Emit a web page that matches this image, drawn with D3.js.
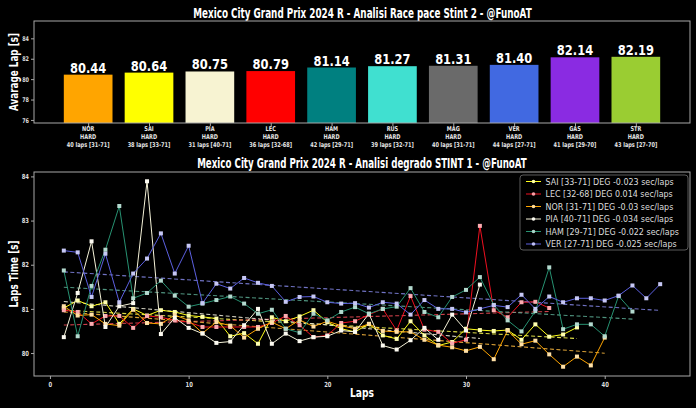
<!DOCTYPE html>
<html><head><meta charset="utf-8">
<script src="https://cdn.jsdelivr.net/npm/d3@7/dist/d3.min.js"></script>
<style>
html,body{margin:0;padding:0;background:#000;}
svg{display:block;}
text{font-family:"DejaVu Sans",sans-serif;}
</style></head><body>
<svg id="c" width="696" height="408"></svg>
<script>
// ---------- DATA: top chart ----------
const drivers = ["NOR","SAI","PIA","LEC","HAM","RUS","MAG","VER","GAS","STR"];
const avgLap = [80.44,80.64,80.75,80.79,81.14,81.27,81.31,81.40,82.14,82.19];
const compounds = ["HARD","HARD","HARD","HARD","HARD","HARD","HARD","HARD","HARD","HARD"];
const stintInfo = ["40 laps [31-71]","38 laps [33-71]","31 laps [40-71]","36 laps [32-68]","42 laps [29-71]",
                   "39 laps [32-71]","40 laps [31-71]","44 laps [27-71]","41 laps [29-70]","43 laps [27-70]"];
const barColors = ["#ffa500","#ffff00","#f7f3d2","#ff0000","#008080","#40e0d0","#6a6a6a","#4169e1","#8a2be2","#9acd32"];
const topTicks = [76,78,80,82,84];

// ---------- DATA: bottom chart ----------
const seriesNames = ["SAI","LEC","NOR","PIA","HAM","VER"];
const legendLabels = ["SAI [33-71] DEG -0.023 sec/laps","LEC [32-68] DEG 0.014 sec/laps","NOR [31-71] DEG -0.03 sec/laps",
                      "PIA [40-71] DEG -0.034 sec/laps","HAM [29-71] DEG -0.022 sec/laps","VER [27-71] DEG -0.025 sec/laps"];
const lineColors = ["#ffff1a","#f01020","#ffa500","#f5f2d8","#279272","#5c60e0"];
const sai = [81.02,81.19,81.06,81.15,80.66,81.0,80.85,80.97,80.93,80.85,80.82,80.78,80.38,80.45,80.21,80.81,80.72,80.83,80.97,80.7,
             80.55,80.48,80.66,80.4,80.32,80.72,80.4,80.17,80.25,80.55,80.52,80.5,80.52,80.3,80.65,80.37,80.42,80.58];
const lec = [80.97,80.93,80.66,80.84,80.84,80.57,80.84,80.81,80.74,80.7,80.59,80.59,80.59,80.59,80.59,80.68,80.84,80.63,80.36,80.4,
             80.68,80.72,80.87,81.0,80.51,81.29,80.53,80.48,80.22,80.3,82.88,80.97,80.81,81.15,81.16,81.02];
const nor = [81.06,80.85,80.87,80.66,80.62,80.98,80.68,80.66,80.86,80.74,80.45,80.7,80.62,80.35,80.55,80.7,80.55,80.75,80.6,80.72,
             80.62,80.55,80.66,80.5,80.48,80.48,80.3,80.18,80.13,80.05,80.14,79.86,80.51,80.2,80.28,79.97,79.69,79.92,79.72,80.35];
const pia = [80.36,81.36,82.53,80.59,81.06,81.13,83.89,80.43,80.8,80.57,80.44,80.23,80.26,80.63,81.0,80.21,80.44,80.27,80.36,80.38,
             80.51,80.48,80.89,80.17,80.08,80.29,80.57,80.3,80.87,80.51,81.55];
const ham = [81.87,80.38,81.52,82.34,83.33,81.24,81.36,81.64,81.3,81.05,81.12,81.2,81.28,81.12,80.89,80.98,80.55,80.46,80.89,80.74,
             80.93,81.04,80.89,81.0,81.05,81.47,80.93,80.81,81.27,81.43,81.72,81.09,80.74,80.49,80.95,81.94,80.54,80.65,80.65,80.38,
             81.29,80.94];
const ver = [82.32,82.28,81.27,82.25,81.15,81.8,82.14,82.71,81.8,82.43,81.13,81.57,81.46,81.7,81.59,81.52,81.16,81.27,81.28,81.15,
             81.12,81.13,81.03,81.15,81.12,80.87,81.2,81.0,81.0,80.92,81.0,81.08,81.04,81.32,81.0,81.28,81.15,81.24,81.24,81.19,
             81.3,81.53,81.24,81.56];
const bottomXTicks = [0,10,20,30,40];
const bottomYTicks = [80,81,82,83,84];

const seriesData = [sai,lec,nor,pia,ham,ver];

// ---------- helpers ----------
const svg = d3.select("#c");
svg.append("rect").attr("width",696).attr("height",408).attr("fill","#000");
function squash(sel,k){ sel.each(function(){ const w=this.getComputedTextLength(); d3.select(this).attr("textLength",w*k).attr("lengthAdjust","spacingAndGlyphs"); }); }
// text compressed horizontally with a transform, to a target width
function wideText(cx,cy,rot,str,size,target){
  const g = svg.append("g");
  const t = g.append("text").attr("x",0).attr("y",0).attr("text-anchor","middle")
    .attr("font-size",size).attr("font-weight","bold").attr("fill","#fff").text(str);
  const k = target/t.node().getComputedTextLength();
  g.attr("transform",`translate(${cx},${cy}) rotate(${rot}) scale(${k},1)`);
  return t;
}
const frameColor = "#a8a8a8";

// ---------- TOP CHART ----------
const T = {l:34,r:690,t:21,b:123};
const xT = d3.scaleLinear().domain([-0.89,9.89]).range([T.l,T.r]);
const yT = d3.scaleLinear().domain([75.7,85.7]).range([T.b,T.t]);
const bw = xT(0.8)-xT(0);

wideText(362.5,17.5,0,"Mexico City Grand Prix 2024 R - Analisi Race pace Stint 2 - @FunoAT",14,339);

const gTop = svg.append("g");
gTop.selectAll("rect.bar").data(avgLap).join("rect").attr("class","bar")
  .attr("x",(d,i)=>xT(i)-bw/2).attr("width",bw)
  .attr("y",d=>yT(d)).attr("height",d=>yT(75.7)-yT(d))
  .attr("fill",(d,i)=>barColors[i]);

const vl = gTop.selectAll("text.val").data(avgLap).join("text").attr("class","val")
  .attr("x",(d,i)=>xT(i)).attr("y",d=>yT(d)-2).attr("text-anchor","middle")
  .attr("font-size",13.5).attr("font-weight","bold").attr("fill","#fff")
  .text(d=>d.toFixed(2));
squash(vl,0.85);

// axes
const yAxT = d3.axisLeft(yT).tickValues(topTicks).tickSize(3).tickFormat(d3.format("d"));
const gy = svg.append("g").attr("transform",`translate(${T.l},0)`).call(yAxT);
const xAxT = d3.axisBottom(xT).tickValues(d3.range(drivers.length)).tickSize(3).tickFormat("");
const gx = svg.append("g").attr("transform",`translate(0,${T.b})`).call(xAxT);
[gy,gx].forEach(g=>{ g.select(".domain").remove(); g.selectAll(".tick line").attr("stroke",frameColor); });
gy.selectAll(".tick text").attr("fill","#ddd").attr("font-size",6.5).attr("font-weight","bold").attr("x",-5);
squash(gy.selectAll(".tick text"),0.75);

const lineSets = [drivers, compounds, stintInfo];
const lineY = [131,139,147];
lineSets.forEach((arr,li)=>{
  const t = svg.append("g").selectAll("text").data(arr).join("text")
    .attr("x",(d,i)=>xT(i)).attr("y",lineY[li]).attr("text-anchor","middle")
    .attr("font-size",6.6).attr("font-weight","bold").attr("fill","#e6e6e6").text(d=>d);
  squash(t,0.76);
});
svg.append("rect").attr("x",T.l).attr("y",T.t).attr("width",T.r-T.l).attr("height",T.b-T.t)
  .attr("fill","none").attr("stroke",frameColor).attr("stroke-width",1);
wideText(18,72,-90,"Avarage Lap [s]",13,78);

// ---------- BOTTOM CHART ----------
const B = {l:34,r:690,t:172,b:376};
const maxLen = d3.max(seriesData,s=>s.length);
const allVals = seriesData.flat();
const ext = d3.extent(allVals);
const xpad = (maxLen-1)*0.05, ypad = (ext[1]-ext[0])*0.05;
const xB = d3.scaleLinear().domain([1-xpad,maxLen+xpad]).range([B.l,B.r]);
const yB = d3.scaleLinear().domain([ext[0]-ypad,ext[1]+ypad]).range([B.b,B.t]);

wideText(362,167.5,0,"Mexico City Grand Prix 2024 R - Analisi degrado STINT 1 - @FunoAT",14,330);

const gB = svg.append("g");
const line = d3.line().x((d,i)=>xB(i+1)).y(d=>yB(d));
function regress(s){
  const n=s.length, xs=d3.range(1,n+1);
  const mx=d3.mean(xs), my=d3.mean(s);
  let num=0,den=0; xs.forEach((x,i)=>{num+=(x-mx)*(s[i]-my); den+=(x-mx)*(x-mx);});
  const b=num/den, a=my-b*mx; return [a+b*1, a+b*n];
}
seriesData.forEach((s,si)=>{
  const c = lineColors[si];
  const r = regress(s);
  gB.append("line").attr("x1",xB(1)).attr("x2",xB(s.length)).attr("y1",yB(r[0])).attr("y2",yB(r[1]))
    .attr("stroke",d3.interpolateRgb(c,"#fff")(0.25)).attr("stroke-width",1.1).attr("stroke-dasharray","4,2.5").attr("opacity",0.85);
});
seriesData.forEach((s,si)=>{
  const c = lineColors[si];
  gB.append("path").datum(s).attr("d",line).attr("fill","none").attr("stroke",c).attr("stroke-width",1);
  gB.selectAll(null).data(s).join("rect")
    .attr("x",(d,i)=>xB(i+1)-2).attr("y",d=>yB(d)-2).attr("width",4).attr("height",4)
    .attr("fill",d3.interpolateRgb(c,"#fff")(0.65));
});

const yAxB = d3.axisLeft(yB).tickValues(bottomYTicks).tickSize(3).tickFormat(d3.format("d"));
const gyb = svg.append("g").attr("transform",`translate(${B.l},0)`).call(yAxB);
const xAxB = d3.axisBottom(xB).tickValues(bottomXTicks).tickSize(3).tickFormat(d3.format("d"));
const gxb = svg.append("g").attr("transform",`translate(0,${B.b})`).call(xAxB);
[gyb,gxb].forEach(g=>{ g.select(".domain").remove(); g.selectAll(".tick line").attr("stroke",frameColor);
  g.selectAll(".tick text").attr("fill","#ddd").attr("font-size",7).attr("font-weight","bold"); });
gyb.selectAll(".tick text").attr("x",-5);
gxb.selectAll(".tick text").attr("y",6);
squash(gyb.selectAll(".tick text"),0.75);
squash(gxb.selectAll(".tick text"),0.75);

svg.append("rect").attr("x",B.l).attr("y",B.t).attr("width",B.r-B.l).attr("height",B.b-B.t)
  .attr("fill","none").attr("stroke",frameColor).attr("stroke-width",1);

wideText(18,274,-90,"Laps Time [s]",13,67);
wideText(362,397,0,"Laps",12.5,24);

// legend
const lg = svg.append("g");
lg.append("rect").attr("x",520).attr("y",175).attr("width",168).attr("height",75).attr("rx",3)
  .attr("fill","#000").attr("stroke","#5a5a5a").attr("stroke-width",1);
const rowY = d3.scalePoint().domain(seriesNames).range([181.5,244]);
seriesNames.forEach((n,i)=>{
  const yy = rowY(n), c = lineColors[i];
  lg.append("line").attr("x1",526).attr("x2",541).attr("y1",yy).attr("y2",yy).attr("stroke",c).attr("stroke-width",1);
  lg.append("circle").attr("cx",533.5).attr("cy",yy).attr("r",1.8).attr("fill",d3.interpolateRgb(c,"#fff")(0.6));
});
const legTexts = legendLabels.map((lab,i)=>{
  const g = lg.append("g");
  const t = g.append("text").attr("x",0).attr("y",0).attr("font-size",9.2).attr("fill","#dcdcdc").text(lab);
  return {g,t,y:rowY(seriesNames[i])+3.3};
});
const kLeg = 128/legTexts[0].t.node().getComputedTextLength();
legTexts.forEach(o=>o.g.attr("transform",`translate(545.5,${o.y}) scale(${kLeg},1)`));
</script>
</body></html>
